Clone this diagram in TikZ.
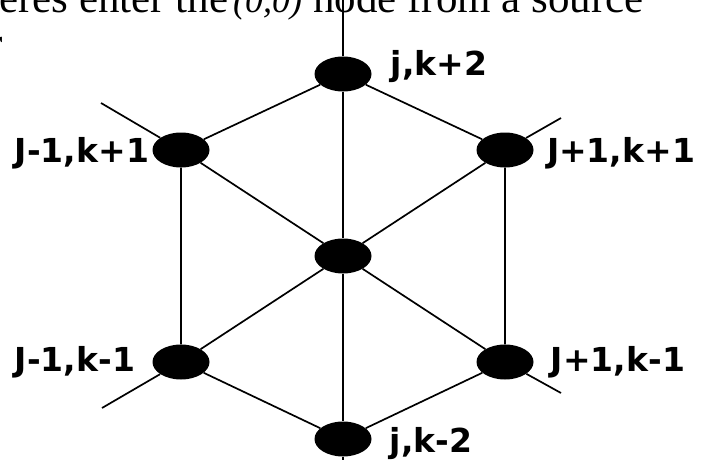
\documentclass[tikz,border=0pt]{standalone}
\usepackage{fontspec}
\setmainfont{Liberation Serif}
\newfontfamily\labelfont{DejaVu Sans}
\usetikzlibrary{shapes.geometric}

\begin{document}
\begin{tikzpicture}[
  x=1pt,y=-1pt,
  dot/.style={ellipse,fill=black,inner sep=0pt,minimum width=57pt,minimum height=35pt},
  lbl/.style={anchor=base,inner sep=0pt,font=\labelfont\bfseries\fontsize{33}{33}\selectfont},
  txt/.style={inner sep=0pt,font=\fontsize{43}{43}\selectfont},
  edge/.style={draw=black,line width=1.7pt}
]
\useasboundingbox (0,0) rectangle (712,460);
% text cut off by the top edge
\node[txt,anchor=base west] (head) at (-1,13) {eres enter the};
\node[txt,anchor=base west,font=\itshape\fontsize{36}{36}\selectfont] (pt) at (233,13) {(0,0)};
\node[txt,anchor=base east] (tail) at (644,13) {node from a source};
\node[txt,anchor=base east] (cut) at (3,58) {r};
% lattice points
\node[dot] (t) at (343,74) {};
\node[dot] (ul) at (181,150) {};
\node[dot] (ur) at (505,150) {};
\node[dot] (c) at (343,256) {};
\node[dot] (ll) at (181,362) {};
\node[dot] (lr) at (505,362) {};
\node[dot] (b) at (343,439) {};
\coordinate (top) at (343,-5);
\coordinate (bot) at (343,465);
\coordinate (ulx) at (101,103);
\coordinate (urx) at (561,118);
\coordinate (llx) at (102,408);
\coordinate (lrx) at (561,393);
\draw[edge] (top) -- (t) -- (c) -- (b) -- (bot);
\draw[edge] (ulx) -- (ul) -- (c) -- (lr) -- (lrx);
\draw[edge] (urx) -- (ur) -- (c) -- (ll) -- (llx);
\draw[edge] (ul) -- (t) -- (ur) -- (lr) -- (b) -- (ll) -- (ul);
% labels
\node[lbl] (lt) at (439,76) {j,k+2};
\node[lbl] (lul) at (82,162) {J-1,k+1};
\node[lbl] (lur) at (621,162) {J+1,k+1};
\node[lbl] (lll) at (75,371) {J-1,k-1};
\node[lbl] (llr) at (618,371) {J+1,k-1};
\node[lbl] (lb) at (431,452) {j,k-2};
\end{tikzpicture}
\end{document}
